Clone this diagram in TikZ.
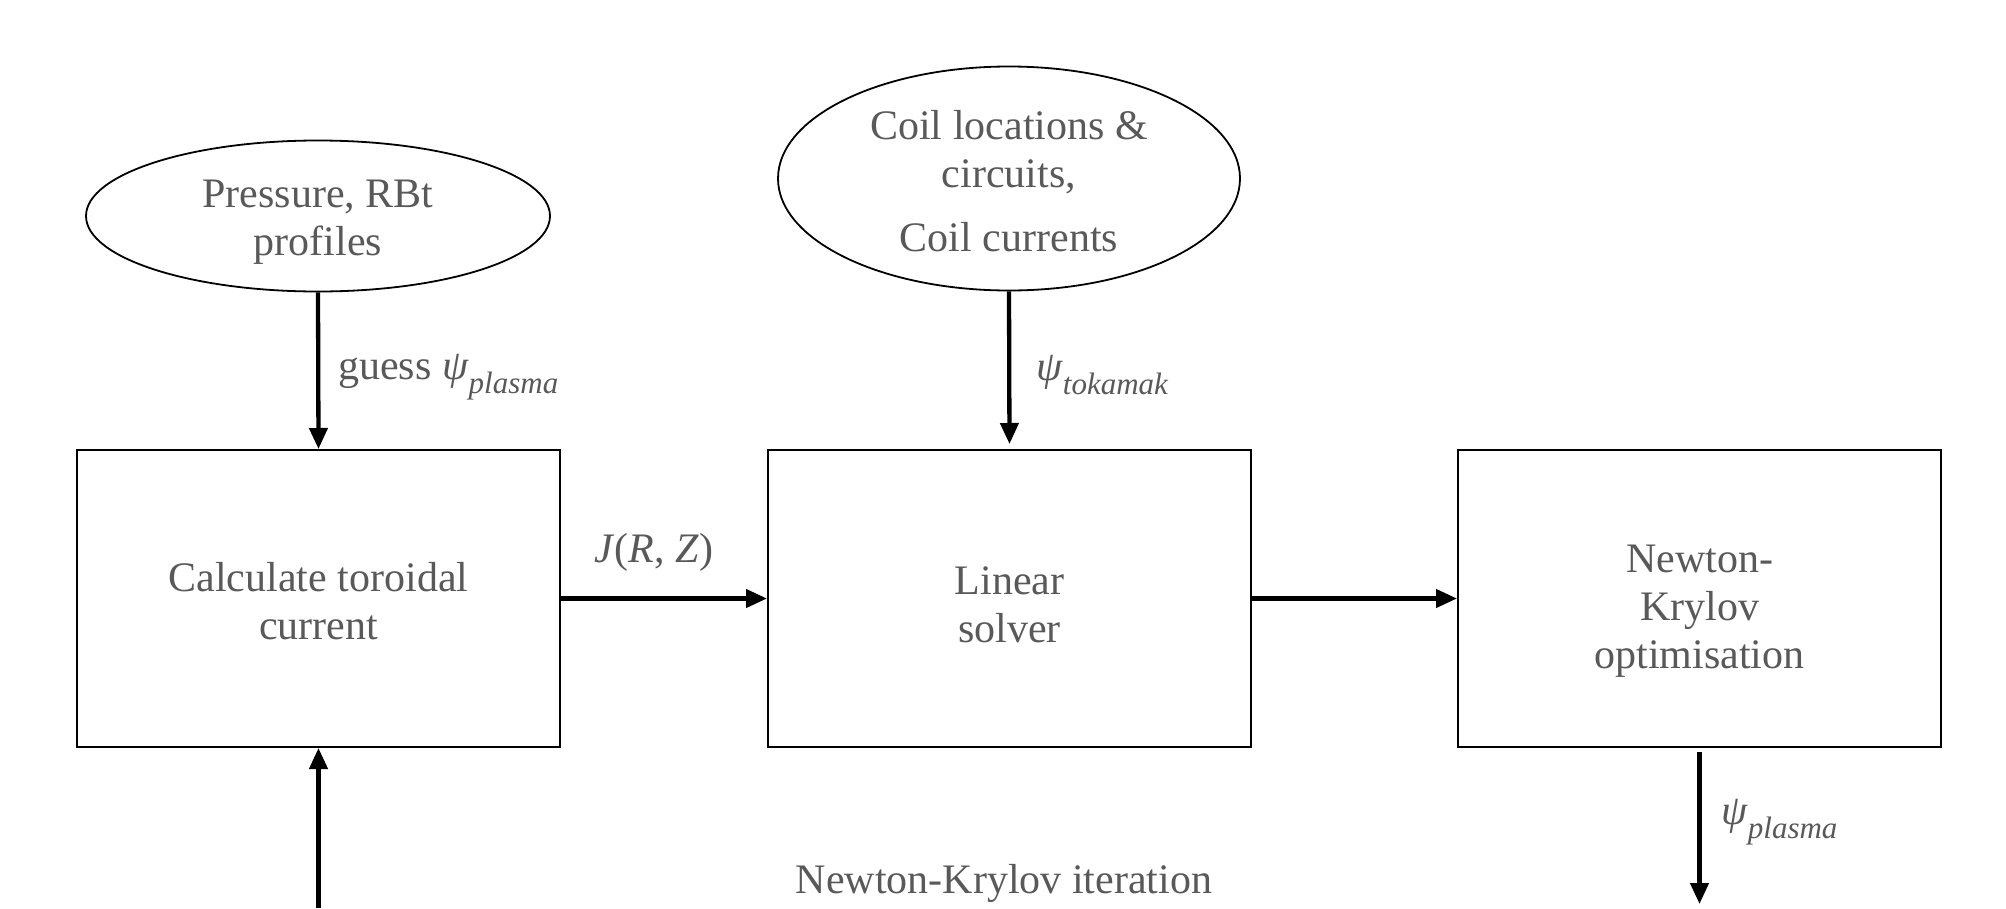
\documentclass[tikz,border=0pt]{standalone}
\usepackage{fontspec}
\setmainfont{Liberation Serif}
\usetikzlibrary{shapes.geometric,arrows.meta}
\definecolor{txt}{HTML}{595959}
\newcommand\subtxt[1]{\raisebox{-0.32em}{\fontsize{31}{31}\selectfont\textit{#1}}}
\begin{document}
\begin{tikzpicture}[x=1pt,y=-1pt,
  every node/.style={text=txt, font=\fontsize{42}{48}\selectfont, align=center, inner sep=0pt},
  box/.style={draw=black, line width=2pt, minimum width=483pt, minimum height=297pt},
  ell/.style={draw=black, line width=1.8pt, ellipse},
  arr/.style={-{Triangle[length=21pt,width=18pt]}, line width=4.3pt, draw=black}]
\useasboundingbox (0,0) rectangle (2006,908);

\node[ell, minimum width=464pt, minimum height=151pt] (e1) at (318,216) {};
\node (t1) at (318,222) {Pressure, RBt\\profiles};
\node[ell, minimum width=462pt, minimum height=224pt] (e2) at (1009,178.5) {};
\node (t2) at (1009,181) {Coil locations \&\\circuits,\\[16pt]Coil currents};

\node[box] (b1) at (318.5,598.5) {};
\node (tb1) at (318.5,601) {Calculate toroidal\\current};
\node[box] (b2) at (1009.5,598.5) {};
\node (tb2) at (1009.5,605) {Linear\\solver};
\node[box] (b3) at (1699.5,598.5) {};
\node (tb3) at (1699.5,611) {Newton-\\Krylov\\optimisation};

\coordinate (in) at (318.5,908);
\coordinate (out) at (1699.5,904);

\draw[arr] (e1.south) -- (b1.north);
\draw[arr, shorten >=5pt] (e2.south) -- (b2.north);
\draw[arr] (b1.east) -- (b2.west);
\draw[arr] (b2.east) -- (b3.west);
\draw[arr] (in) -- (b1.south);
\draw[arr, shorten <=4pt] (b3.south) -- (out);

\node[anchor=west] (l1) at (338,377) {guess \textit{ψ}\subtxt{plasma}};
\node[anchor=west] (l2) at (1036,375) {\textit{ψ}\subtxt{tokamak}};
\node (l3) at (654,552) {\textit{J}(\textit{R}, \textit{Z})};
\node[anchor=west] (l4) at (1721,822) {\textit{ψ}\subtxt{plasma}};
\node (l5) at (1004,883) {Newton-Krylov iteration};
\end{tikzpicture}
\end{document}
